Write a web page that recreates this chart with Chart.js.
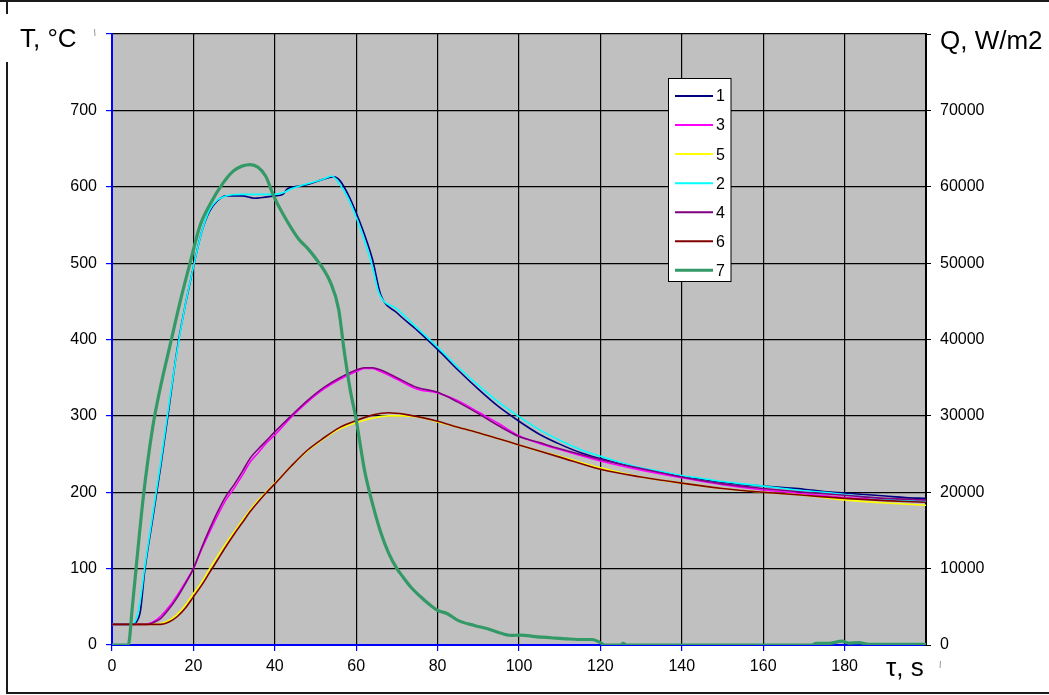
<!DOCTYPE html>
<html>
<head>
<meta charset="utf-8">
<script src="https://cdn.jsdelivr.net/npm/chart.js@4.4.0/dist/chart.umd.min.js"></script>
<style>
  body { margin: 0; background: #fff; }
  #wrap { width: 1049px; height: 695px; }
</style>
</head>
<body>
<div id="wrap"><canvas id="chart" width="1049" height="695"></canvas></div>
<script>
// time axis ticks, s
const timeTicks = [0, 20, 40, 60, 80, 100, 120, 140, 160, 180];

// thermocouple 1 and 2 (outer), T in °C
const t1 = [0, 5, 6, 7, 8, 10, 12, 14, 16, 18, 19, 20, 22, 24, 26, 28, 32, 35, 37, 40, 42, 43, 46, 48, 52, 54.5, 56, 58, 60, 62, 64, 66, 70, 75, 80, 85, 90, 95, 100, 105, 110, 115, 120, 125, 130, 135, 140, 145, 150, 155, 160, 165, 170, 175, 180, 185, 190, 195, 200];
const temp1 = [27, 27, 30, 45, 95, 165, 235, 310, 387, 445, 470, 495, 540, 568, 582, 588, 588, 585, 586, 588, 590, 597, 601, 603, 610, 613, 608, 590, 566, 538, 505, 459, 435, 412, 387, 360, 335, 312, 293, 276, 263, 252, 244, 237, 231, 226, 221, 217, 213, 210, 208, 206, 204, 201, 199, 197, 195, 193, 192];

const t2 = [0, 5, 6, 7, 8, 10, 12, 14, 16, 18, 20, 22, 24, 26, 28, 32, 36, 40, 42, 44, 48, 52, 54, 56, 58, 60, 62, 64, 65.5, 70, 75, 80, 85, 90, 95, 100, 105, 110, 115, 120, 125, 130, 135, 140, 145, 150, 155, 160, 165, 170, 175, 180, 185, 190, 195, 200];
const temp2 = [27, 27, 35, 60, 100, 170, 240, 315, 385, 445, 495, 540, 570, 583, 588, 590, 590, 590, 592, 597, 604, 610, 614, 603, 585, 560, 530, 495, 462, 440, 415, 390, 364, 340, 318, 299, 282, 268, 256, 247, 239, 232, 227, 222, 218, 214, 211, 208, 205, 202, 200, 197, 194, 191, 189, 188];

// thermocouple 3 and 4 (middle)
const t34 = [0, 8, 9, 10, 12, 14, 16, 18, 20, 22, 24, 26, 28, 30, 32, 34, 36, 38, 40, 44, 48, 52, 56, 60, 62, 64, 66, 70, 75, 80, 85, 90, 95, 100, 105, 110, 120, 130, 140, 150, 160, 170, 180, 190, 200];
const temp3 = [27, 27, 28, 30, 38, 50, 65, 82, 100, 125, 148, 170, 190, 205, 222, 240, 252, 265, 275, 298, 318, 335, 348, 358, 362, 362, 358, 348, 335, 330, 320, 305, 290, 274, 264, 256, 241, 229, 219, 210, 203, 198, 193, 190, 188];
const temp4 = [27, 27, 27, 29, 35, 47, 62, 80, 100, 127, 152, 175, 195, 210, 227, 245, 257, 268, 279, 300, 320, 337, 350, 360, 363, 363, 360, 350, 337, 331, 318, 303, 287, 273, 265, 257, 243, 231, 220, 211, 205, 200, 196, 192, 190];

// thermocouple 5 and 6 (inner)
const t56 = [0, 10, 12, 14, 16, 18, 20, 22, 24, 26, 28, 30, 32, 34, 36, 38, 40, 44, 48, 52, 56, 60, 64, 68, 72, 76, 80, 85, 90, 95, 100, 105, 110, 120, 130, 140, 150, 160, 170, 180, 190, 200];
const temp5 = [27, 27, 28, 32, 40, 52, 67, 82, 100, 117, 133, 148, 163, 177, 190, 201, 212, 234, 254, 270, 283, 291, 297, 300, 300, 298, 292, 285, 278, 270, 262, 254, 247, 232, 220, 212, 205, 200, 196, 190, 186, 183];
const temp6 = [27, 27, 27, 30, 37, 48, 63, 78, 95, 112, 129, 145, 160, 175, 188, 200, 211, 234, 255, 271, 285, 294, 301, 304, 302, 298, 293, 285, 278, 270, 262, 254, 246, 230, 220, 212, 205, 200, 196, 192, 189, 187];

// heat flux 7, W/m2
const t7 = [0, 4, 5, 6, 7.7, 10, 12, 14.2, 17, 19.2, 21.6, 24.1, 27.4, 29.9, 34, 37.7, 39.7, 41.8, 45.9, 47.9, 49.6, 53.7, 55.7, 57, 58.5, 60, 62, 64, 66, 68, 70, 71.5, 73.4, 75.9, 78, 80, 82.4, 85, 89, 92.3, 94.8, 98, 100.5, 104, 107.9, 112, 116, 118, 120.2, 121, 125, 125.6, 126.5, 172, 173, 176, 179.4, 181, 183.5, 186, 200];
const flux7 = [0, 0, 5000, 10500, 19400, 28500, 34000, 39100, 45500, 50060, 54870, 57720, 60570, 62100, 62900, 61440, 58810, 56630, 53120, 52030, 50930, 47440, 43930, 38680, 33500, 29500, 23000, 18500, 14800, 12000, 10000, 8900, 7590, 6280, 5300, 4530, 4100, 3220, 2560, 2130, 1680, 1250, 1300, 1100, 950, 800, 720, 720, 240, 0, 0, 200, 0, 0, 200, 200, 500, 250, 300, 100, 100];

const labels = ['1', '3', '5', '2', '4', '6', '7'];
const colors = ['#000080', '#FF00FF', '#FFFF00', '#00FFFF', '#800080', '#800000', '#339966'];

function pts(xs, ys) {
  return xs.map((x, i) => ({ x: x, y: ys[i] }));
}

const FONT = "'Liberation Sans', Arial, sans-serif";

function line(label, color, data, axis, order, width) {
  return {
    label: label,
    data: data,
    yAxisID: axis,
    borderColor: color,
    backgroundColor: color,
    borderWidth: width,
    pointRadius: 0,
    cubicInterpolationMode: 'monotone',
    order: order
  };
}

// plot background, frame, titles and the boxed legend
const decor = {
  id: 'decor',
  beforeDraw(chart) {
    const ctx = chart.ctx;
    const a = chart.chartArea;
    ctx.save();
    ctx.fillStyle = '#fff';
    ctx.fillRect(0, 0, chart.width, chart.height);
    ctx.fillStyle = '#C0C0C0';
    ctx.fillRect(a.left, a.top, a.right - a.left, a.bottom - a.top);
    ctx.restore();
  },
  afterDraw(chart) {
    const ctx = chart.ctx;
    ctx.save();
    // outer frame
    ctx.strokeStyle = '#1a1a1a';
    ctx.lineWidth = 2;
    ctx.beginPath();
    ctx.moveTo(0, 1); ctx.lineTo(chart.width, 1);
    ctx.moveTo(7, 1); ctx.lineTo(7, 693);
    ctx.lineTo(chart.width, 693);
    ctx.stroke();

    // axis titles
    ctx.fillStyle = '#fff';
    ctx.fillRect(0, 14, 88, 48);
    ctx.fillStyle = '#000';
    ctx.font = '26px ' + FONT;
    ctx.textBaseline = 'middle';
    ctx.textAlign = 'left';
    ctx.fillText('T, °C', 20, 40);
    ctx.fillText('Q, W/m2', 940, 42);
    ctx.fillText('τ, s', 886, 669);

    // clipped edges of the title frames
    ctx.strokeStyle = '#999';
    ctx.lineWidth = 1;
    ctx.beginPath();
    ctx.moveTo(94.5, 29); ctx.lineTo(95, 36);
    ctx.moveTo(940.5, 661); ctx.lineTo(940, 668);
    ctx.stroke();

    // legend
    const lx = 668.5, ly = 78.5, lw = 62.5, lh = 203;
    ctx.fillStyle = '#fff';
    ctx.fillRect(lx, ly, lw, lh);
    ctx.strokeStyle = '#000';
    ctx.lineWidth = 1;
    ctx.strokeRect(lx, ly, lw, lh);
    ctx.font = '16px ' + FONT;
    chart.data.datasets.forEach((ds, i) => {
      const y = 96 + i * 29.05;
      ctx.strokeStyle = ds.borderColor;
      ctx.lineWidth = ds.borderWidth > 2 ? 3 : 2;
      ctx.beginPath();
      ctx.moveTo(675, y);
      ctx.lineTo(713, y);
      ctx.stroke();
      ctx.fillStyle = '#000';
      ctx.fillText(ds.label, 716, y + 1);
    });
    ctx.restore();
  }
};

const tickFont = { family: FONT, size: 16 };

new Chart(document.getElementById('chart'), {
  type: 'line',
  data: {
    datasets: [
      line(labels[0], colors[0], pts(t1, temp1), 'y', 6, 1.6),
      line(labels[1], colors[1], pts(t34, temp3), 'y', 5, 1.6),
      line(labels[2], colors[2], pts(t56, temp5), 'y', 4, 1.6),
      line(labels[3], colors[3], pts(t2, temp2), 'y', 3, 1.6),
      line(labels[4], colors[4], pts(t34, temp4), 'y', 2, 1.6),
      line(labels[5], colors[5], pts(t56, temp6), 'y', 1, 1.6),
      line(labels[6], colors[6], pts(t7, flux7), 'y2', 0, 3.2)
    ]
  },
  options: {
    responsive: false,
    animation: false,
    layout: { padding: { top: 34, left: 0, right: 0, bottom: 0 } },
    plugins: { legend: { display: false }, tooltip: { enabled: false } },
    scales: {
      x: {
        type: 'linear',
        min: 0,
        max: 200,
        afterBuildTicks: (s) => { s.ticks = timeTicks.map(v => ({ value: v })); },
        ticks: { color: '#000', font: tickFont, padding: 6, maxRotation: 0 },
        grid: { color: '#000', lineWidth: 1.2, tickColor: '#0000FF', tickLength: 6 },
        border: { color: '#0000FF', width: 2 },
        afterFit: (s) => { s.height = 50; }
      },
      y: {
        position: 'left',
        min: 0,
        max: 800,
        ticks: {
          stepSize: 100, color: '#000', font: tickFont, padding: 9,
          callback: (v) => (v >= 800 ? '' : v)
        },
        grid: { color: '#000', lineWidth: 1.2, tickColor: '#0000FF', tickLength: 6 },
        border: { color: '#0000FF', width: 2 },
        afterFit: (s) => { s.width = 112; }
      },
      y2: {
        position: 'right',
        min: 0,
        max: 80000,
        ticks: {
          stepSize: 10000, color: '#000', font: tickFont, padding: 9,
          callback: (v) => (v >= 80000 ? '' : v)
        },
        grid: { drawOnChartArea: false, color: '#000', tickColor: '#000', tickLength: 5 },
        border: { color: '#000', width: 2 },
        afterFit: (s) => { s.width = 123; }
      }
    }
  },
  plugins: [decor]
});
</script>
</body>
</html>
